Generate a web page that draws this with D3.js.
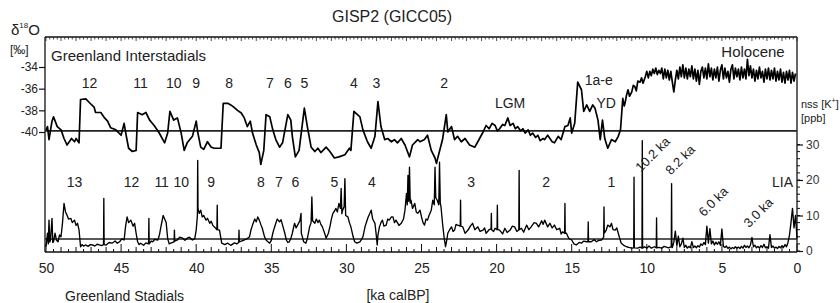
<!DOCTYPE html>
<html>
<head>
<meta charset="utf-8">
<script src="https://cdn.jsdelivr.net/npm/d3@7"></script>
<style>
  body { margin: 0; background: #fff; }
  svg { font-family: "Liberation Sans", Arial, sans-serif; }
  .axis path { display: none; }
  .axis line { stroke: #111; }
</style>
</head>
<body>
<svg id="chart" width="840" height="303"></svg>
<script>
// GISP2 d18O, glacial part [age ka, permil]
const d18oGlacial = [
  [50.0,-39.8],[49.9,-39.5],[49.8,-40.7],[49.6,-39.0],[49.5,-38.6],[49.25,-39.5],[49.0,-39.8],[48.8,-40.6],
  [48.6,-41.2],[48.3,-40.6],[48.1,-40.9],[48.0,-40.6],[47.8,-41.0],[47.7,-37.0],[47.35,-36.95],[47.1,-37.3],
  [46.8,-37.7],[46.7,-38.2],[46.35,-38.2],[46.1,-38.7],[45.9,-39.0],[45.7,-39.6],[45.35,-39.8],[45.0,-40.3],
  [44.8,-39.2],[44.65,-40.4],[44.5,-41.5],[44.25,-41.8],[44.0,-41.7],[43.9,-38.2],[43.6,-38.4],[43.35,-38.2],
  [43.1,-38.9],[42.8,-39.4],[42.5,-40.0],[42.1,-41.0],[41.9,-40.1],[41.75,-38.1],[41.5,-38.9],[41.25,-38.7],
  [41.0,-40.1],[40.8,-41.7],[40.6,-41.0],[40.25,-40.4],[40.0,-39.0],[39.9,-40.0],[39.7,-41.4],[39.5,-41.6],
  [39.25,-40.9],[39.0,-41.4],[38.8,-41.5],[38.35,-41.5],[38.2,-37.35],[37.9,-37.35],[37.7,-37.5],[37.5,-37.7],
  [37.25,-38.0],[37.0,-38.25],[36.8,-38.7],[36.6,-39.5],[36.4,-39.0],[36.25,-40.1],[36.0,-41.2],[35.8,-41.9],
  [35.7,-43.0],[35.5,-41.7],[35.35,-38.4],[35.1,-38.6],[34.9,-39.8],[34.7,-40.7],[34.45,-41.4],[34.25,-41.0],
  [33.9,-38.4],[33.7,-38.9],[33.6,-40.4],[33.4,-42.3],[33.15,-41.7],[32.8,-37.8],[32.6,-39.5],[32.35,-41.4],
  [32.1,-41.8],[31.9,-41.5],[31.7,-41.9],[31.35,-41.4],[31.1,-41.8],[30.8,-42.4],[30.5,-42.3],[30.1,-42.1],
  [29.8,-41.5],[29.7,-41.7],[29.5,-38.1],[29.1,-38.6],[28.9,-39.8],[28.6,-40.9],[28.35,-41.5],[28.1,-40.4],
  [27.9,-37.2],[27.7,-39.5],[27.45,-40.7],[27.25,-40.6],[27.0,-40.9],[26.8,-40.7],[26.6,-41.0],[26.35,-40.6],
  [26.1,-41.2],[25.8,-42.3],[25.6,-41.2],[25.25,-40.7],[25.1,-40.9],[24.8,-40.7],[24.6,-40.3],[24.35,-41.7],
  [24.1,-42.4],[24.0,-42.9],[23.9,-42.3],[23.6,-40.7],[23.35,-38.4],[23.25,-40.0],[23.0,-39.5],[22.8,-40.7],
  [22.6,-40.4],[22.35,-40.9],[22.1,-40.6],[21.8,-41.2],[21.45,-41.4],[21.25,-40.9],[20.9,-40.0],[20.7,-39.4],
  [20.5,-39.7],[20.3,-39.2],[20.1,-39.4],[19.95,-39.9],[19.8,-39.7],[19.6,-39.3],[19.45,-39.4],[19.25,-38.7],
  [19.1,-39.4],[18.9,-39.2],[18.75,-39.7],[18.6,-39.5],[18.4,-39.9],[18.25,-39.7],[18.1,-40.1],[17.9,-39.8],
  [17.75,-40.3],[17.6,-40.1],[17.4,-40.5],[17.25,-40.3],[17.1,-40.8],[16.9,-40.6],[16.8,-40.7],[16.6,-40.3],
  [16.45,-40.6],[16.3,-40.9],[16.15,-41.0],[15.9,-40.4],[15.7,-40.7],[15.45,-39.5],[15.25,-39.4],[15.1,-38.7],
  [15.0,-40.1],[14.8,-39.2],[14.6,-35.4],[14.35,-36.1],[14.2,-38.1],[14.0,-37.5],[13.8,-38.1],[13.6,-37.5],
  [13.45,-37.8],[13.25,-38.9],[13.1,-40.7],[12.95,-38.9],[12.8,-40.6],[12.6,-41.5],[12.35,-40.7],[12.1,-40.9],
  [11.9,-40.4],[11.75,-39.8],[11.6,-36.9],[11.5,-37.6],[11.45,-37.35],[11.35,-36.6],[11.25,-36.1],[11.15,-36.7],
  [11.0,-36.3],[10.9,-35.7],[10.8,-35.8],[10.7,-36.2],[10.6,-35.3],[10.45,-35.4],[10.35,-35.0],[10.25,-35.5],
  [10.1,-34.9],[10.0,-34.4],[9.9,-35.0],[9.8,-34.4],[9.7,-34.8],[9.6,-34.2],[9.5,-34.6],[9.4,-34.1],
  [9.3,-34.7],[9.2,-34.3],[9.1,-34.6]
];
// Holocene d18O, every 0.1 ka from 9.0 ka to 0.1 ka
const holoStart = 9.0;
const d18oHolocene = [
  -34.1,-35.1,-34.2,-35.0,-34.3,-35.2,-34.4,-35.4,-36.3,-35.2,
  -34.3,-35.1,-34.0,-34.9,-33.8,-35.0,-34.1,-35.1,-34.2,-34.9,
  -33.9,-35.1,-34.2,-35.3,-34.3,-35.6,-34.4,-34.0,-35.0,-34.1,
  -35.1,-33.7,-34.9,-34.1,-35.2,-34.2,-35.0,-34.0,-35.3,-34.3,
  -33.8,-35.1,-34.1,-35.0,-34.4,-35.4,-34.2,-33.8,-35.1,-34.1,
  -34.9,-34.2,-35.2,-34.0,-35.0,-34.2,-35.1,-33.3,-34.8,-33.9,
  -35.0,-34.2,-35.3,-34.3,-35.1,-34.0,-35.0,-34.4,-35.4,-34.2,
  -35.1,-34.1,-35.2,-34.3,-35.1,-34.1,-35.3,-34.4,-35.2,-34.2,
  -35.4,-34.5,-35.5,-34.4,-35.2,-34.3,-35.5,-34.5,-35.3,-34.6
];

// GISP2 nss K+, [age ka, ppb]
const kGlacial = [
  [50.0,1.2],[49.9,5.0],[49.85,2.0],[49.8,8.7],[49.75,2.5],[49.7,3.1],[49.6,9.2],[49.55,2.4],[49.5,2.6],[49.4,5.0],
  [49.3,3.0],[49.2,2.6],[49.1,4.5],[49.0,4.0],[48.9,8.0],[48.8,13.4],[48.7,11.0],[48.6,10.1],[48.5,9.0],[48.35,9.2],
  [48.25,8.0],[48.1,8.7],[48.0,7.2],[47.9,7.8],[47.8,5.9],[47.7,1.2],[47.6,1.8],[47.5,1.4],[47.35,1.7],[47.2,1.3],
  [47.05,1.8],[46.9,1.7],[46.75,1.4],[46.6,1.9],[46.45,1.7],[46.3,1.5],[46.17,1.8],[46.15,14.8],[46.13,1.8],[46.0,1.7],
  [45.8,2.4],[45.6,2.2],[45.4,2.8],[45.25,2.2],[45.1,2.6],[44.95,3.4],[44.8,3.1],[44.7,7.0],[44.6,9.6],[44.5,8.0],
  [44.35,8.7],[44.2,7.0],[44.1,7.8],[44.0,5.0],[43.9,2.6],[43.8,1.8],[43.7,2.2],[43.5,1.6],[43.35,2.3],[43.17,2.0],
  [43.15,9.2],[43.13,2.0],[43.0,2.8],[42.9,2.6],[42.75,3.3],[42.55,3.1],[42.45,4.5],[42.35,6.8],[42.2,10.0],[42.1,9.0],
  [42.0,8.0],[41.9,3.5],[41.8,2.0],[41.7,2.2],[41.47,2.6],[41.45,5.9],[41.43,2.8],[41.25,3.1],[41.1,3.9],[40.9,3.6],
  [40.75,3.0],[40.6,3.6],[40.45,3.9],[40.25,3.1],[40.1,3.4],[40.0,5.9],[39.92,10.0],[39.9,25.5],[39.88,12.0],[39.8,10.6],
  [39.7,11.5],[39.6,9.6],[39.5,10.0],[39.35,8.7],[39.25,9.2],[39.1,7.8],[39.0,8.4],[38.9,7.3],[38.8,6.8],[38.7,6.4],
  [38.62,6.0],[38.6,12.9],[38.58,6.0],[38.45,5.9],[38.3,2.2],[38.1,1.8],[37.9,2.2],[37.7,1.6],[37.45,2.3],[37.3,2.0],
  [37.17,2.4],[37.15,5.9],[37.13,2.6],[37.0,2.8],[36.8,3.1],[36.6,3.5],[36.45,4.0],[36.35,6.0],[36.25,7.3],[36.1,9.0],
  [36.0,8.2],[35.9,9.6],[35.8,8.7],[35.7,7.5],[35.6,6.4],[35.45,4.0],[35.35,3.1],[35.2,2.5],[35.1,2.2],[35.0,3.0],
  [34.9,5.0],[34.8,6.5],[34.7,7.8],[34.6,9.0],[34.45,8.2],[34.35,8.8],[34.25,7.3],[34.1,5.0],[34.0,3.1],[33.9,2.4],
  [33.8,2.6],[33.7,3.5],[33.6,5.0],[33.5,7.0],[33.45,7.8],[33.35,6.5],[33.25,7.3],[33.1,8.5],[33.02,10.6],[33.0,5.0],
  [32.9,3.5],[32.85,2.6],[32.7,2.2],[32.6,3.5],[32.45,6.8],[32.35,8.0],[32.3,15.2],[32.25,8.5],[32.1,7.8],[32.0,9.0],
  [31.9,8.0],[31.8,8.7],[31.7,7.5],[31.6,6.8],[31.45,5.0],[31.35,3.6],[31.2,5.0],[31.1,6.8],[31.0,9.0],[30.9,10.6],
  [30.8,11.2],[30.7,12.0],[30.6,11.0],[30.5,13.4],[30.4,12.0],[30.35,17.6],[30.3,10.5],[30.25,11.5],[30.15,12.5],[30.1,20.4],
  [30.05,10.0],[29.9,9.6],[29.8,8.0],[29.7,6.8],[29.55,4.0],[29.45,2.6],[29.3,2.2],[29.1,2.6],[29.0,3.2],[28.9,4.0],
  [28.75,7.0],[28.55,9.6],[28.45,10.5],[28.35,11.5],[28.25,9.0],[28.1,7.8],[28.0,4.0],[27.95,1.7],[27.9,4.5],[27.8,6.8],
  [27.7,8.0],[27.6,8.7],[27.5,7.0],[27.35,7.3],[27.25,9.0],[27.15,8.7],[27.0,9.6],[26.9,9.6],[26.8,8.0],[26.7,8.7],
  [26.5,7.2],[26.35,7.8],[26.2,9.0],[26.1,11.5],[26.0,16.2],[25.95,13.0],[25.9,21.3],[25.85,14.0],[25.8,23.6],[25.75,13.5],
  [25.7,14.3],[25.6,12.0],[25.45,13.4],[25.35,11.0],[25.25,10.6],[25.1,11.5],[25.0,9.6],[24.9,8.0],[24.8,7.3],[24.7,9.0],
  [24.6,8.7],[24.5,10.0],[24.35,11.5],[24.25,14.3],[24.15,13.0],[24.1,23.6],[24.05,15.0],[23.95,14.3],[23.85,13.0],[23.8,25.0],
  [23.75,13.5],[23.7,12.4],[23.6,7.8],[23.5,4.0],[23.4,1.2],[23.3,3.5],[23.25,5.0],[23.1,6.2],[23.0,6.8],[22.9,5.5],
  [22.8,5.9],[22.7,7.5],[22.6,7.3],[22.42,7.0],[22.4,14.3],[22.38,7.0],[22.25,6.8],[22.1,5.0],[21.9,5.9],[21.75,7.0],
  [21.6,7.8],[21.45,6.0],[21.25,6.8],[21.1,5.5],[20.9,5.9],[20.8,6.5],[20.7,5.0],[20.5,6.0],[20.37,6.2],[20.35,10.6],
  [20.33,6.0],[20.2,5.5],[20.1,6.4],[19.97,6.0],[19.95,12.9],[19.93,6.0],[19.8,5.9],[19.6,4.8],[19.45,6.4],[19.3,5.2],
  [19.1,5.9],[18.95,7.0],[18.8,6.8],[18.65,5.5],[18.52,6.0],[18.5,22.7],[18.48,6.0],[18.35,6.4],[18.2,5.3],[18.0,7.3],
  [17.85,6.0],[17.7,6.8],[17.5,8.0],[17.35,7.8],[17.2,6.8],[17.0,8.5],[16.9,7.5],[16.8,8.7],[16.6,6.8],[16.45,7.8],
  [16.3,6.5],[16.15,7.3],[16.0,6.0],[15.8,6.4],[15.7,4.8],[15.6,5.4],[15.47,5.0],[15.45,13.4],[15.43,5.0],[15.35,5.0],
  [15.2,3.6],[15.0,3.1],[14.85,2.0],[14.7,1.7],[14.5,2.4],[14.35,2.2],[14.2,2.8],[14.0,2.6],[13.92,2.6],[13.9,8.2],
  [13.88,2.6],[13.7,2.6],[13.5,3.2],[13.35,2.6],[13.2,3.0],[13.0,3.1],[12.87,4.0],[12.85,12.4],[12.83,5.0],[12.7,5.9],
  [12.6,7.3],[12.45,6.8],[12.35,7.8],[12.25,6.0],[12.1,5.9],[12.0,6.5],[11.9,5.0],[11.8,3.5],[11.7,2.2],[11.5,1.5],
  [11.35,1.2],[11.2,1.0],[11.0,0.8],[10.87,0.9],[10.85,20.8],[10.83,0.9],[10.6,0.8],[10.45,1.1],[10.32,0.8],[10.3,31.1],
  [10.28,0.8],[10.15,1.2],[10.0,0.8],[9.85,1.4],[9.7,0.8],[9.5,1.2],[9.37,0.9],[9.35,9.3],[9.33,0.9],[9.2,1.0],
  [9.0,0.8],[8.85,1.3],[8.7,1.1],[8.55,0.9],[8.37,1.2],[8.35,19.0],[8.33,1.0]
];
// Holocene nss K+, every 0.1 ka from 8.3 ka to 0.0 ka
const kHoloStart = 8.3;
const kHolocene = [
  1.0,2.5,5.6,1.4,4.2,1.2,2.0,3.6,1.0,1.6,
  0.8,1.3,0.9,2.6,1.0,1.4,0.9,1.5,1.1,2.0,
  1.6,2.4,1.8,7.0,2.2,6.3,2.0,2.8,1.7,2.5,
  1.9,2.6,1.6,6.2,1.3,1.0,1.4,0.7,1.1,0.6,
  1.0,0.7,1.2,0.8,1.1,0.7,1.3,0.8,1.6,1.0,
  1.4,0.9,1.7,3.8,1.2,1.6,0.9,1.3,0.8,1.5,
  1.0,1.9,0.9,1.2,0.8,4.6,1.0,1.4,0.8,1.1,
  0.7,1.3,0.9,1.5,1.0,1.8,1.2,2.4,4.5,8.0,
  12.0,6.5,10.0,3.5
];

const d18oTicks = [-34, -36, -38, -40];
const kTicks = [0, 10, 20, 30];
const ageTicks = [50, 45, 40, 35, 30, 25, 20, 15, 10, 5, 0];
const d18oThreshold = -39.9;
const kThreshold = 3.4;

// interstadial numbers above d18O, stadial numbers above K
const interstadials = [["12",47.1],["11",43.7],["10",41.5],["9",40.0],["8",37.8],["7",35.1],["6",33.9],["5",32.8],["4",29.5],["3",28.0],["2",23.5]];
const stadials = [["13",48.1],["12",44.3],["11",42.3],["10",41.0],["9",39.0],["8",35.7],["7",34.5],["6",33.4],["5",30.8],["4",28.3],["3",21.7],["2",16.7],["1",12.35]];
const events = [["10.2 ka",10.2,22.1],["8.2 ka",8.2,21.3],["6.0 ka",6.0,9.5],["3.0 ka",3.0,6.4]];

const svg = d3.select('#chart');
const x = d3.scaleLinear().domain([50, 0]).range([46, 797]);
const yD = d3.scaleLinear().domain([-40, -34]).range([132, 67]);
const yK = d3.scaleLinear().domain([0, 30]).range([251, 144.5]);

const fTop = 37, fBottom = 252, fLeft = 45, fRight = 797;

const d18o = d18oGlacial.concat(d18oHolocene.map((v, i) => [holoStart - i * 0.1, v]));
const kSeries = kGlacial.concat(kHolocene.map((v, i) => [kHoloStart - i * 0.1, v]));

// frame
const frame = svg.append('g').attr('stroke', '#111').attr('stroke-width', 1.3);
frame.append('line').attr('x1', fLeft).attr('x2', fRight).attr('y1', fTop).attr('y2', fTop);
frame.append('line').attr('x1', fLeft).attr('x2', fRight).attr('y1', fBottom).attr('y2', fBottom);
frame.append('line').attr('x1', fLeft).attr('x2', fLeft).attr('y1', fTop).attr('y2', fBottom);
frame.append('line').attr('x1', fRight).attr('x2', fRight).attr('y1', fTop).attr('y2', fBottom);

// top comb of small ticks
const topTicks = d3.range(0, 201).map(i => i * 0.25);
svg.append('g').attr('stroke', '#222').attr('stroke-width', 0.8)
  .selectAll('line').data(topTicks).join('line')
  .attr('x1', d => x(d)).attr('x2', d => x(d))
  .attr('y1', fTop).attr('y2', d => fTop + (d % 1 === 0 ? 4 : 2.5));

// bottom age axis, ticks pointing up
const minorAge = d3.range(0, 101).map(i => i * 0.5);
svg.append('g').attr('stroke', '#111').attr('stroke-width', 1)
  .selectAll('line').data(minorAge).join('line')
  .attr('x1', d => x(d)).attr('x2', d => x(d))
  .attr('y1', fBottom).attr('y2', d => fBottom - (d % 5 === 0 ? 8 : d % 1 === 0 ? 5 : 3));

svg.append('g').attr('class', 'axis').attr('transform', `translate(0,${fBottom})`)
  .call(d3.axisBottom(x).tickValues(ageTicks).tickSize(0).tickPadding(11).tickFormat(d => String(d)))
  .call(g => g.selectAll('text').attr('font-size', 14).attr('font-family', null).attr('fill', '#222'));

// left d18O axis
svg.append('g').attr('class', 'axis').attr('transform', `translate(${fLeft},0)`)
  .call(d3.axisLeft(yD).tickValues(d18oTicks).tickSize(6).tickPadding(1).tickFormat(d => String(d)))
  .call(g => g.selectAll('line').attr('stroke-width', 1.2))
  .call(g => g.selectAll('text').attr('font-size', 12).attr('font-family', null).attr('fill', '#222'));

// right K axis
const minorK = d3.range(0, 16).map(i => i * 2);
svg.append('g').attr('stroke', '#111').attr('stroke-width', 1)
  .selectAll('line').data(minorK).join('line')
  .attr('x1', fRight).attr('x2', fRight + 3)
  .attr('y1', d => yK(d)).attr('y2', d => yK(d));
svg.append('g').attr('class', 'axis').attr('transform', `translate(${fRight},0)`)
  .call(d3.axisRight(yK).tickValues(kTicks).tickSize(6).tickPadding(3).tickFormat(d => String(d)))
  .call(g => g.selectAll('line').attr('stroke-width', 1.2))
  .call(g => g.selectAll('text').attr('font-size', 12).attr('font-family', null).attr('fill', '#333'));

// threshold lines
svg.append('line').attr('x1', fLeft).attr('x2', fRight)
  .attr('y1', yD(d18oThreshold)).attr('y2', yD(d18oThreshold))
  .attr('stroke', '#222').attr('stroke-width', 1.6);
svg.append('line').attr('x1', fLeft).attr('x2', fRight)
  .attr('y1', yK(kThreshold)).attr('y2', yK(kThreshold))
  .attr('stroke', '#222').attr('stroke-width', 1.6);

// series
const lineD = d3.line().x(d => x(d[0])).y(d => yD(d[1]));
const lineK = d3.line().x(d => x(d[0])).y(d => yK(d[1]));
svg.append('path').datum(kSeries).attr('d', lineK)
  .attr('fill', 'none').attr('stroke', '#000').attr('stroke-width', 1.35).attr('stroke-linejoin', 'round');
svg.append('path').datum(d18o).attr('d', lineD)
  .attr('fill', 'none').attr('stroke', '#000').attr('stroke-width', 1.7).attr('stroke-linejoin', 'round');

// texts
const txt = (s, px, py, size, anchor) => svg.append('text').text(s)
  .attr('x', px).attr('y', py).attr('font-size', size)
  .attr('text-anchor', anchor || 'start').attr('fill', '#222');

txt('GISP2 (GICC05)', 392, 22, 16, 'middle');
txt('Greenland Interstadials', 51, 61, 15);
txt('Greenland Stadials', 65, 301, 14);
txt('[ka calBP]', 398, 300, 14, 'middle');
txt('Holocene', 753, 57, 15, 'middle');
txt('LGM', x(19.1), 108, 14, 'middle');
txt('1a-e', x(13.2), 85, 14, 'middle');
txt('YD', x(12.7), 108, 14, 'middle');
txt('LIA', 793, 187, 14, 'end');

const yl = svg.append('text').attr('x', 11).attr('y', 35).attr('fill', '#222');
yl.append('tspan').text('δ').attr('font-size', 15);
yl.append('tspan').text('18').attr('font-size', 8).attr('dy', -7);
yl.append('tspan').text('O').attr('font-size', 15).attr('dy', 7);
txt('[‰]', 10, 54, 12);

const kl = svg.append('text').attr('x', 801).attr('y', 108).attr('font-size', 11).attr('fill', '#222');
kl.append('tspan').text('nss [K');
kl.append('tspan').text('+').attr('font-size', 7).attr('dy', -5);
kl.append('tspan').text(']').attr('dy', 5);
txt('[ppb]', 801, 122, 11);

svg.append('g').selectAll('text').data(interstadials).join('text')
  .text(d => d[0]).attr('x', d => x(d[1])).attr('y', 88)
  .attr('font-size', 14).attr('text-anchor', 'middle').attr('fill', '#222');
svg.append('g').selectAll('text').data(stadials).join('text')
  .text(d => d[0]).attr('x', d => x(d[1])).attr('y', 187)
  .attr('font-size', 14).attr('text-anchor', 'middle').attr('fill', '#222');
svg.append('g').selectAll('text').data(events).join('text')
  .text(d => d[0])
  .attr('transform', d => `translate(${x(d[1]) - 3},${yK(d[2])}) rotate(-45)`)
  .attr('font-size', 13).attr('fill', '#222');
</script>
</body>
</html>
